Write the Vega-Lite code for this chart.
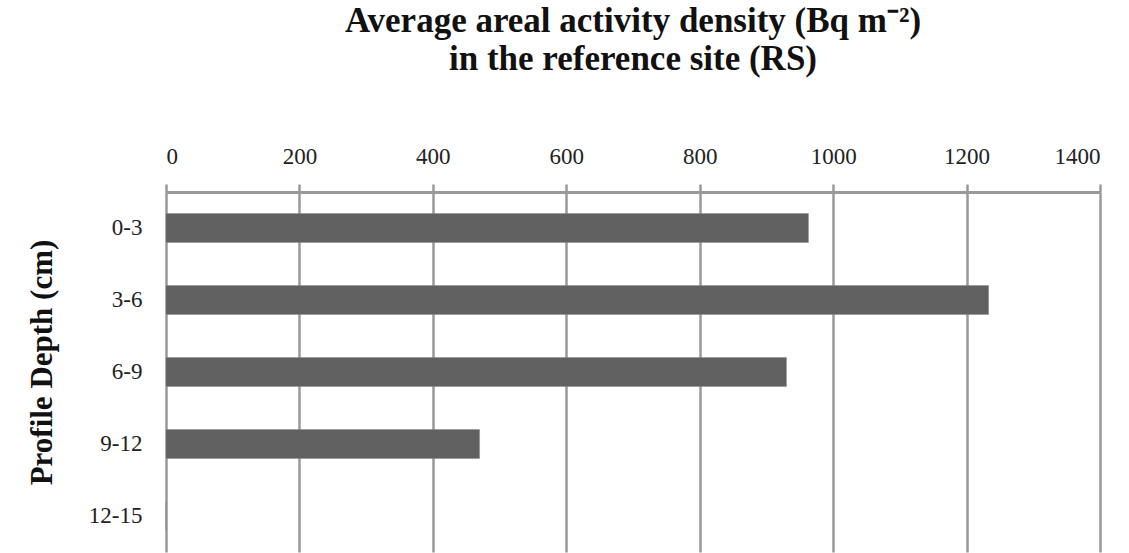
{
  "$schema": "https://vega.github.io/schema/vega-lite/v6.json",
  "autosize": "none",
  "width": 934,
  "height": 360,
  "padding": {"left": 166, "top": 192, "right": 29, "bottom": 1},
  "background": "white",
  "config": {"view": {"stroke": null}, "font": "Liberation Serif"},
  "title": {
    "text": ["Average areal activity density (Bq m⁻²)", "in the reference site (RS)"],
    "font": "Liberation Serif",
    "fontSize": 35,
    "fontWeight": "bold",
    "color": "#111111",
    "anchor": "middle",
    "lineHeight": 38,
    "offset": 68
  },
  "data": {
    "values": [
      {"depth": "0-3", "activity": 963},
      {"depth": "3-6", "activity": 1233},
      {"depth": "6-9", "activity": 930},
      {"depth": "9-12", "activity": 470},
      {"depth": "12-15", "activity": 0}
    ]
  },
  "mark": {"type": "bar", "color": "#606060", "stroke": "#8a8a8a", "strokeWidth": 0.5},
  "encoding": {
    "y": {
      "field": "depth",
      "type": "nominal",
      "sort": null,
      "scale": {"paddingInner": 0.6, "paddingOuter": 0.3},
      "axis": {
        "title": "Profile Depth (cm)",
        "titleFont": "Liberation Serif",
        "titleFontSize": 31,
        "titleFontWeight": "bold",
        "titleColor": "#111111",
        "titlePadding": 30,
        "titleY": 170,
        "labelFont": "Liberation Serif",
        "labelFontSize": 23,
        "labelColor": "#222222",
        "labelPadding": 24,
        "ticks": false,
        "domain": false,
        "grid": false
      }
    },
    "x": {
      "field": "activity",
      "type": "quantitative",
      "scale": {"domain": [0, 1400], "nice": false},
      "axis": {
        "orient": "top",
        "title": null,
        "format": "d",
        "values": [0, 200, 400, 600, 800, 1000, 1200, 1400],
        "labelFont": "Liberation Serif",
        "labelFontSize": 23,
        "labelColor": "#222222",
        "labelPadding": 16,
        "tickSize": 8,
        "tickColor": "#999999",
        "tickWidth": 2.5,
        "domainColor": "#999999",
        "domainWidth": 3,
        "grid": true,
        "gridColor": "#999999",
        "gridWidth": 2.5,
        "gridOpacity": 1
      }
    }
  }
}
